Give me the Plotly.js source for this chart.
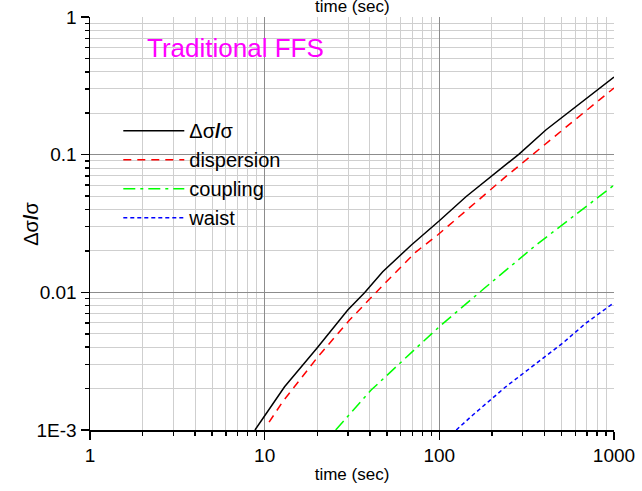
<!DOCTYPE html>
<html>
<head>
<meta charset="utf-8">
<script src="https://cdn.plot.ly/plotly-3.0.1.min.js"></script>
<style>
  html, body { margin: 0; padding: 0; background: #fff; }
  #chart { width: 642px; height: 491px; }
</style>
</head>
<body>
<div id="chart"></div>
<script>
// Beam size growth versus time, traditional final focus system
const timeTotal = [8.8, 13.0, 19.9, 29.9, 37.3, 47.4, 68.9, 100, 142, 202, 286, 407, 1000];
const sigTotal  = [0.001, 0.00206, 0.00392, 0.00743, 0.00993, 0.0141, 0.0220, 0.0331, 0.0495, 0.0711, 0.101, 0.151, 0.366];

const timeDisp = [10.6, 12.7, 20.2, 30.6, 49.6, 73.6, 97.8, 162, 240, 507, 1000];
const sigDisp  = [0.00114, 0.00161, 0.00341, 0.00629, 0.0119, 0.0197, 0.0261, 0.0455, 0.0692, 0.151, 0.305];

const timeCoup = [25.5, 40.7, 75.2, 100, 181, 357, 1000];
const sigCoup  = [0.001, 0.00195, 0.00403, 0.00563, 0.0107, 0.0220, 0.0601];

const timeWaist = [125, 155, 240, 357, 507, 689, 1000];
const sigWaist  = [0.001, 0.00128, 0.00206, 0.00305, 0.00426, 0.00596, 0.0084];

const xTickVals = [1, 10, 100, 1000];
const xTickText = ['1', '10', '100', '1000'];
const yTickVals = [0.001, 0.01, 0.1, 1];
const yTickText = ['1E-3', '0.01', '0.1', '1'];

const FONT = 'Liberation Sans, Arial, sans-serif';

const traces = [
  { x: timeTotal, y: sigTotal, name: 'Δσ<b>/</b>σ', legendgroup: 'a',
    mode: 'lines', line: { color: '#000000', width: 1.5 } },
  { x: timeDisp, y: sigDisp, name: 'dispersion', legendgroup: 'b',
    mode: 'lines', line: { color: '#ff0000', width: 1.5, dash: '8px,6px' } },
  { x: timeCoup, y: sigCoup, name: 'coupling', legendgroup: 'c',
    mode: 'lines', line: { color: '#00ff00', width: 1.5, dash: '12px,5px,3px,5px' } },
  { x: timeWaist, y: sigWaist, name: 'waist', legendgroup: 'd',
    mode: 'lines', line: { color: '#0000ff', width: 1.5, dash: '4px,3px' } }
];

const axisCommon = {
  type: 'log',
  showline: true, linecolor: '#000', linewidth: 1.5,
  ticks: 'outside', ticklen: 8, tickwidth: 1.5, tickcolor: '#000',
  showgrid: true, gridcolor: '#8c8c8c', gridwidth: 1,
  zeroline: false,
  tickfont: { family: FONT, size: 19, color: '#000' },
  minor: { dtick: 'D1', ticks: 'outside', ticklen: 4, tickwidth: 1.5, tickcolor: '#000',
           showgrid: true, gridcolor: '#cfcfcf', gridwidth: 1 }
};

const layout = {
  width: 642, height: 491,
  margin: { l: 90, r: 28, t: 17, b: 61 },
  paper_bgcolor: '#fff', plot_bgcolor: '#fff',
  showlegend: true,
  legend: {
    x: 0.054, y: 0.772, xanchor: 'left', yanchor: 'top',
    bgcolor: 'rgba(0,0,0,0)', borderwidth: 0,
    font: { family: FONT, size: 20, color: '#000' },
    itemwidth: 61, traceorder: 'grouped', tracegroupgap: 0
  },
  xaxis: Object.assign({}, axisCommon, {
    range: [0, 3], tickvals: xTickVals, ticktext: xTickText,
    title: { text: 'time (sec)', font: { family: FONT, size: 17, color: '#000' }, standoff: 3 }
  }),
  yaxis: Object.assign({}, axisCommon, {
    range: [-3, 0], tickvals: yTickVals, ticktext: yTickText
  }),
  annotations: [
    // y-axis title, placed by hand to sit close to the tick labels
    { text: 'Δσ<b>/</b>σ', xref: 'paper', yref: 'paper', x: -0.114, y: 0.5,
      xanchor: 'center', yanchor: 'middle', textangle: -90, showarrow: false,
      font: { family: FONT, size: 20, color: '#000' } },
    { text: 'Traditional FFS', xref: 'paper', yref: 'paper', x: 0.105, y: 0.925,
      xanchor: 'left', yanchor: 'middle', showarrow: false,
      font: { family: FONT, size: 26, color: '#ff00ff' } },
    { text: 'time (sec)', xref: 'paper', yref: 'paper', x: 0.5, y: 0.998,
      xanchor: 'center', yanchor: 'bottom', showarrow: false,
      font: { family: FONT, size: 17, color: '#000' } }
  ]
};

Plotly.newPlot('chart', traces, layout, { displayModeBar: false, staticPlot: true });
</script>
</body>
</html>
